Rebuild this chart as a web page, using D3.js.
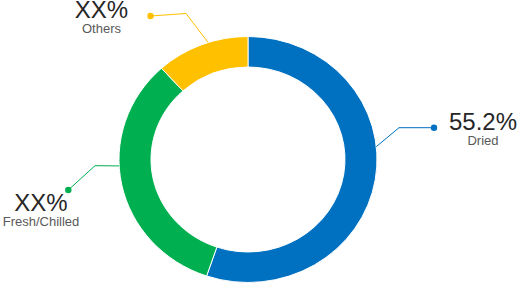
<!DOCTYPE html>
<html>
<head>
<meta charset="utf-8">
<script src="https://cdn.jsdelivr.net/npm/d3@7"></script>
<style>
  body { margin:0; background:#fff; }
  svg { display:block; font-family:"Liberation Sans", Arial, sans-serif; }
</style>
</head>
<body>
<div id="chart"></div>
<script>
// data
var categories = ["Dried", "Fresh/Chilled", "Others"]
var values = [55.2, 33.1, 11.7]
var value_labels = ["55.2%", "XX%", "XX%"]
var colors = ["#0070C0", "#00B050", "#FFC000"]

// label placement (angle on ring where the leader starts, elbow, dot, text)
var label_layout = [
    {angle:84,  elbow:[399,127.7], dot:[434,127.7], tx:483,   ty:129.5},
    {angle:267, elbow:[95,165.7],  dot:[68.3,190],  tx:41,    ty:210.7},
    {angle:342, elbow:[186,13.5],  dot:[150.5,16],  tx:101.5, ty:17.5}
]

var width = 518, height = 285
var cx = 248, cy = 159.5
var rx = 129, ry = 123, inner = 97

var svg = d3.select("#chart")
  .append("svg")
    .attr("width", width)
    .attr("height", height)

var pie = d3.pie().sort(null).value(function(d){ return d })
var arc = d3.arc().innerRadius(inner).outerRadius(rx)

var ring = svg.append("g")
    .attr("transform", "translate(" + cx + "," + cy + ") scale(1," + (ry/rx) + ")")

ring.selectAll("path")
    .data(pie(values))
    .join("path")
    .attr("d", arc)
    .attr("fill", function(d,i){ return colors[i] })
    .attr("stroke", "#fff")
    .attr("stroke-width", 1)

// point on the outer edge of the (slightly squashed) ring
function edge_point(deg){
    var a = deg * Math.PI / 180
    return [cx + rx*Math.sin(a), cy - ry*Math.cos(a)]
}

var labels = svg.append("g")

categories.forEach(function(name, i){
    var l = label_layout[i]
    var p = edge_point(l.angle)
    labels.append("polyline")
        .attr("points", [p, l.elbow, l.dot].map(function(q){ return q.join(",") }).join(" "))
        .attr("fill", "none")
        .attr("stroke", colors[i])
        .attr("stroke-width", 1)
    labels.append("circle")
        .attr("cx", l.dot[0])
        .attr("cy", l.dot[1])
        .attr("r", 3.2)
        .attr("fill", colors[i])
    labels.append("text")
        .attr("x", l.tx)
        .attr("y", l.ty)
        .attr("text-anchor", "middle")
        .style("font-size", "24px")
        .style("fill", "#262626")
        .text(value_labels[i])
    labels.append("text")
        .attr("x", l.tx)
        .attr("y", l.ty + 15.5)
        .attr("text-anchor", "middle")
        .style("font-size", "13px")
        .style("fill", "#595959")
        .text(name)
})
</script>
</body>
</html>
